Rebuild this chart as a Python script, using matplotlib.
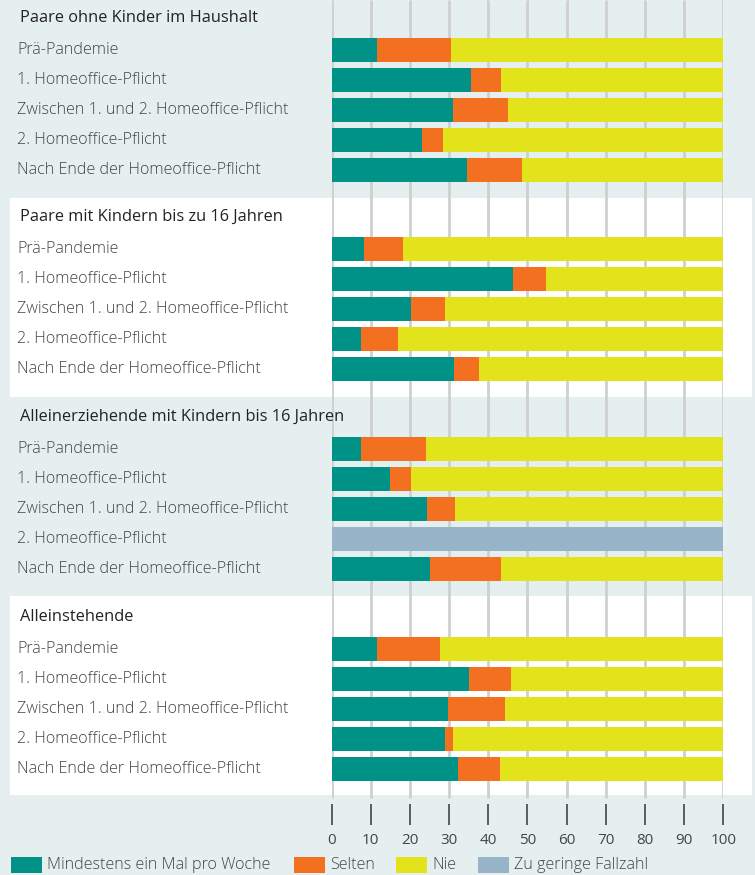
import numpy as np
import matplotlib
matplotlib.use("Agg")
import matplotlib.pyplot as plt
from matplotlib.patches import Rectangle

plt.rcParams['font.family'] = ['Open Sans', 'DejaVu Sans']

groups = ["Paare ohne Kinder im Haushalt",
          "Paare mit Kindern bis zu 16 Jahren",
          "Alleinerziehende mit Kindern bis 16 Jahren",
          "Alleinstehende"]
periods = ["Prä-Pandemie",
           "1. Homeoffice-Pflicht",
           "Zwischen 1. und 2. Homeoffice-Pflicht",
           "2. Homeoffice-Pflicht",
           "Nach Ende der Homeoffice-Pflicht"]

# per group, per period (NaN = zu geringe Fallzahl)
mindestens = [11.6, 35.6, 31.0, 23.0, 34.6,
              8.3, 46.3, 20.3, 7.5, 31.3,
              7.5, 14.9, 24.4, np.nan, 25.1,
              11.6, 35.1, 29.7, 29.0, 32.3]
selten = [18.9, 7.6, 14.0, 5.4, 14.0,
          9.9, 8.4, 8.7, 9.5, 6.3,
          16.6, 5.4, 7.1, np.nan, 18.1,
          16.1, 10.7, 14.6, 2.0, 10.7]

legend_labels = ["Mindestens ein Mal pro Woche", "Selten", "Nie", "Zu geringe Fallzahl"]
xticks = [0, 10, 20, 30, 40, 50, 60, 70, 80, 90, 100]

TEAL = "#009187"
ORANGE = "#f37021"
YELLOW = "#e2e31a"
GREY = "#98b4c8"
BG = "#e6eff0"
TXT = "#444444"

W, H = 755, 875
fig = plt.figure(figsize=(W / 100, H / 100), dpi=100, facecolor=BG)


def fig_rect(x0, y0, x1, y1, **kw):
    # pixel box (top-left origin) -> figure fraction
    r = Rectangle((x0 / W, 1 - y1 / H), (x1 - x0) / W, (y1 - y0) / H,
                  transform=fig.transFigure, **kw)
    fig.add_artist(r)
    return r


# white panels behind groups 2 and 4
fig_rect(10, 198, 752, 397, facecolor="white", edgecolor="none", zorder=-1)
fig_rect(10, 596, 752, 795, facecolor="white", edgecolor="none", zorder=-1)

x0px, x1px, ybot = 331.5, 723.3, 804
ax = fig.add_axes([x0px / W, 1 - ybot / H, (x1px - x0px) / W, ybot / H])
ax.set_facecolor("none")
ax.set_xlim(0, 100)
ax.set_ylim(ybot, 0)

group_top = [50, 249, 449, 649]
step = 30
ypos = np.array([g + i * step for g in group_top for i in range(len(periods))])

m = np.array(mindestens)
s = np.array(selten)
n = 100 - m - s
missing = np.isnan(m)

ax.vlines(xticks, 0, 798, color="#cfcfcf", lw=2, zorder=0)

bh = 24
ax.barh(ypos, np.nan_to_num(m), height=bh, color=TEAL, zorder=2)
ax.barh(ypos, np.nan_to_num(s), left=np.nan_to_num(m), height=bh, color=ORANGE, zorder=2)
ax.barh(ypos, np.nan_to_num(n), left=np.nan_to_num(m + s), height=bh, color=YELLOW, zorder=2)
ax.barh(ypos[missing], 100, height=bh, color=GREY, zorder=2)

for sp in ax.spines.values():
    sp.set_visible(False)
ax.set_yticks([])
ax.set_xticks(xticks)
ax.set_xticklabels([str(t) for t in xticks], fontsize=11, color=TXT)
ax.tick_params(axis="x", length=15, width=1.2, color="#444444", pad=6)

# labels
for gi, g in enumerate(groups):
    fig.text(20 / W, 1 - (group_top[gi] - 32) / H, g, fontsize=11.8, color="#222222",
             va="center", ha="left")
    for pi, p in enumerate(periods):
        y = group_top[gi] + pi * step
        fig.text(17 / W, 1 - y / H, p, fontsize=11.6, color=TXT,
                 va="center", ha="left", fontweight="light")

# legend
leg_colors = [TEAL, ORANGE, YELLOW, GREY]
leg_x = [11, 294, 396, 478]
for c, lx, lab in zip(leg_colors, leg_x, legend_labels):
    fig_rect(lx, 857, lx + 31, 873, facecolor=c, edgecolor="none")
    fig.text((lx + 36) / W, 1 - 865 / H, lab, fontsize=11.6, color=TXT,
             va="center", ha="left", fontweight="light")

fig.savefig("out.png", dpi=100, facecolor=BG)
